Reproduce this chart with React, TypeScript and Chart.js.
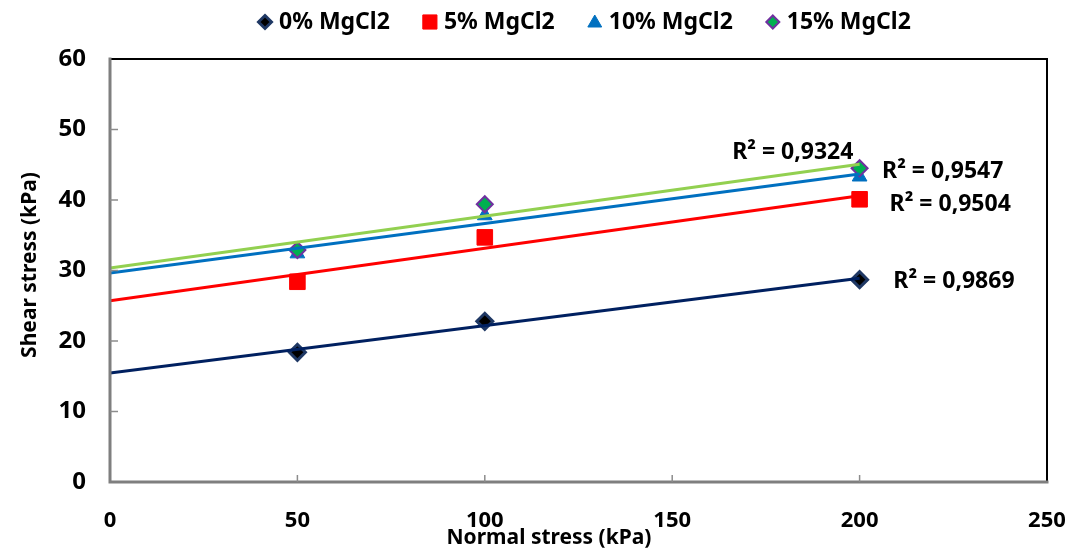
import React, { useEffect, useRef } from "react";
import { Chart, registerables } from "chart.js";

Chart.register(...registerables);

// ---- data ----
const seriesNames = ["0% MgCl2", "5% MgCl2", "10% MgCl2", "15% MgCl2"];
const normalStress = [50, 100, 200];
const shear0 = [18.4, 22.8, 28.7];
const shear5 = [28.4, 34.7, 40.1];
const shear10 = [32.4, 37.8, 43.3];
const shear15 = [32.9, 39.4, 44.5];
const r2Texts = ["R² = 0,9869", "R² = 0,9504", "R² = 0,9547", "R² = 0,9324"];
const r2AnchorX = [209, 208, 206, 166];
const r2AnchorY = [28.5, 39.4, 44.0, 46.8];
const trendEndX = 200;
const xTickValues = [0, 50, 100, 150, 200, 250];
const yTickValues = [0, 10, 20, 30, 40, 50, 60];

// ---- styles ----
const FONT = '"Noto Sans", "Open Sans", sans-serif';
const markerFill = ["#000000", "#FF0000", "#0070C0", "#00B050"];
const markerBorder = ["#1F3864", "#FF0000", "#0070C0", "#7030A0"];
const markerStyle = ["rectRot", "rect", "triangle", "rectRot"];
const markerRadius = [8, 11, 8.5, 8];
const markerBorderWidth = [3, 1, 1, 2];
const lineColors = ["#002060", "#FF0000", "#0070C0", "#92D050"];

const allSeries = [shear0, shear5, shear10, shear15];

function fit(xs: number[], ys: number[]) {
  const n = xs.length;
  const mx = xs.reduce((a, b) => a + b, 0) / n;
  const my = ys.reduce((a, b) => a + b, 0) / n;
  let sxy = 0;
  let sxx = 0;
  for (let i = 0; i < n; i++) {
    sxy += (xs[i] - mx) * (ys[i] - my);
    sxx += (xs[i] - mx) * (xs[i] - mx);
  }
  const b = sxy / sxx;
  return { a: my - b * mx, b };
}

function drawMarker(ctx: CanvasRenderingContext2D, i: number, x: number, y: number, r: number) {
  ctx.save();
  ctx.fillStyle = markerFill[i];
  ctx.strokeStyle = markerBorder[i];
  ctx.lineWidth = markerBorderWidth[i];
  ctx.beginPath();
  const st = markerStyle[i];
  if (st === "rectRot") {
    ctx.moveTo(x, y - r);
    ctx.lineTo(x + r, y);
    ctx.lineTo(x, y + r);
    ctx.lineTo(x - r, y);
    ctx.closePath();
  } else if (st === "rect") {
    const s = r * Math.SQRT1_2;
    ctx.rect(x - s, y - s, 2 * s, 2 * s);
  } else {
    ctx.moveTo(x, y - r);
    ctx.lineTo(x + r * 0.866, y + r * 0.5);
    ctx.lineTo(x - r * 0.866, y + r * 0.5);
    ctx.closePath();
  }
  ctx.fill();
  ctx.stroke();
  ctx.restore();
}

const overlayPlugin = {
  id: "overlay",
  afterDraw(chart: any) {
    const ctx: CanvasRenderingContext2D = chart.ctx;
    const { left, right, top, bottom } = chart.chartArea;
    const xs = chart.scales.x;
    const ys = chart.scales.y;
    ctx.save();

    // frame: top & right black, left & bottom grey
    ctx.lineCap = "square";
    ctx.strokeStyle = "#000000";
    ctx.lineWidth = 2;
    ctx.beginPath();
    ctx.moveTo(left, top);
    ctx.lineTo(right, top);
    ctx.lineTo(right, bottom);
    ctx.stroke();
    ctx.strokeStyle = "#7F7F7F";
    ctx.lineWidth = 3;
    ctx.beginPath();
    ctx.moveTo(left, top);
    ctx.lineTo(left, bottom);
    ctx.lineTo(right, bottom);
    ctx.stroke();

    // inward tick marks
    ctx.lineWidth = 1.5;
    ctx.strokeStyle = "#8C8C8C";
    ctx.lineCap = "butt";
    yTickValues.forEach((v) => {
      if (v === 0 || v === 60) return;
      const py = ys.getPixelForValue(v);
      ctx.beginPath();
      ctx.moveTo(left, py);
      ctx.lineTo(left + 8, py);
      ctx.stroke();
    });
    xTickValues.forEach((v) => {
      if (v === 0 || v === 250) return;
      const px = xs.getPixelForValue(v);
      ctx.beginPath();
      ctx.moveTo(px, bottom);
      ctx.lineTo(px, bottom - 7);
      ctx.stroke();
    });

    // R² labels
    ctx.fillStyle = "#000000";
    ctx.font = `bold 23px ${FONT}`;
    ctx.textAlign = "left";
    ctx.textBaseline = "middle";
    r2Texts.forEach((t, i) => {
      ctx.fillText(t, xs.getPixelForValue(r2AnchorX[i]), ys.getPixelForValue(r2AnchorY[i]));
    });

    // x-axis title
    ctx.font = `bold 21px ${FONT}`;
    ctx.textAlign = "center";
    ctx.fillText("Normal stress (kPa)", 541, 530);

    // y-axis title
    ctx.save();
    ctx.translate(22, 257);
    ctx.rotate(-Math.PI / 2);
    ctx.font = `bold 21px ${FONT}`;
    ctx.fillText("Shear stress (kPa)", 0, 0);
    ctx.restore();

    // legend
    ctx.font = `bold 23px ${FONT}`;
    ctx.textAlign = "left";
    let lx = 250;
    const ly = 14;
    seriesNames.forEach((name, i) => {
      const r = markerStyle[i] === "rect" ? 10 : markerStyle[i] === "triangle" ? 8 : 6.5;
      drawMarker(ctx, i, lx + 7, ly + (markerStyle[i] === "triangle" ? 1 : 0), r);
      ctx.fillStyle = "#000000";
      ctx.fillText(name, lx + 21, ly);
      lx += 21 + ctx.measureText(name).width + 33;
    });

    ctx.restore();
  },
};

export default function App() {
  const canvasRef = useRef<HTMLCanvasElement | null>(null);

  useEffect(() => {
    if (!canvasRef.current) return;

    const scatterSets = allSeries.map((ys, i) => ({
      type: "scatter" as const,
      label: seriesNames[i],
      data: normalStress.map((x, k) => ({ x, y: ys[k] })),
      pointStyle: markerStyle[i],
      pointRadius: markerRadius[i],
      pointBackgroundColor: markerFill[i],
      pointBorderColor: markerBorder[i],
      pointBorderWidth: markerBorderWidth[i],
      showLine: false,
      order: 4 - i,
    }));

    const trendSets = allSeries.map((ys, i) => {
      const { a, b } = fit(normalStress, ys);
      return {
        type: "line" as const,
        label: seriesNames[i] + " trend",
        data: [
          { x: 0, y: a },
          { x: trendEndX, y: a + b * trendEndX },
        ],
        borderColor: lineColors[i],
        borderWidth: 3,
        pointRadius: 0,
        showLine: true,
        fill: false,
        order: 0,
      };
    });

    const chart = new Chart(canvasRef.current, {
      type: "scatter",
      data: { datasets: [...trendSets, ...scatterSets] as any },
      options: {
        animation: false,
        responsive: false,
        layout: { padding: { top: 51, right: 0, left: 0, bottom: 0 } },
        plugins: {
          legend: { display: false },
          title: { display: false },
          tooltip: { enabled: false },
        },
        scales: {
          x: {
            type: "linear",
            min: 0,
            max: 250,
            grid: { display: false, drawTicks: false },
            border: { display: false },
            afterBuildTicks: (s: any) => {
              s.ticks = xTickValues.map((v) => ({ value: v }));
            },
            afterFit: (s: any) => {
              s.height = 71;
              s.paddingRight = 19;
              s.paddingLeft = 0;
            },
            ticks: {
              padding: 26,
              color: "#000000",
              font: { family: FONT, size: 22, weight: "bold" },
            },
          },
          y: {
            type: "linear",
            min: 0,
            max: 60,
            grid: { display: false, drawTicks: false },
            border: { display: false },
            afterBuildTicks: (s: any) => {
              s.ticks = yTickValues.map((v) => ({ value: v }));
            },
            afterFit: (s: any) => {
              s.width = 102;
              s.paddingTop = 0;
              s.paddingBottom = 0;
            },
            ticks: {
              padding: 24,
              color: "#000000",
              font: { family: FONT, size: 24, weight: "bold" },
            },
          },
        },
      } as any,
      plugins: [overlayPlugin],
    });

    return () => chart.destroy();
  }, []);

  return (
    <div style={{ width: 1058, height: 545 }}>
      <canvas ref={canvasRef} width={1058} height={545} style={{ display: "block" }} />
    </div>
  );
}
